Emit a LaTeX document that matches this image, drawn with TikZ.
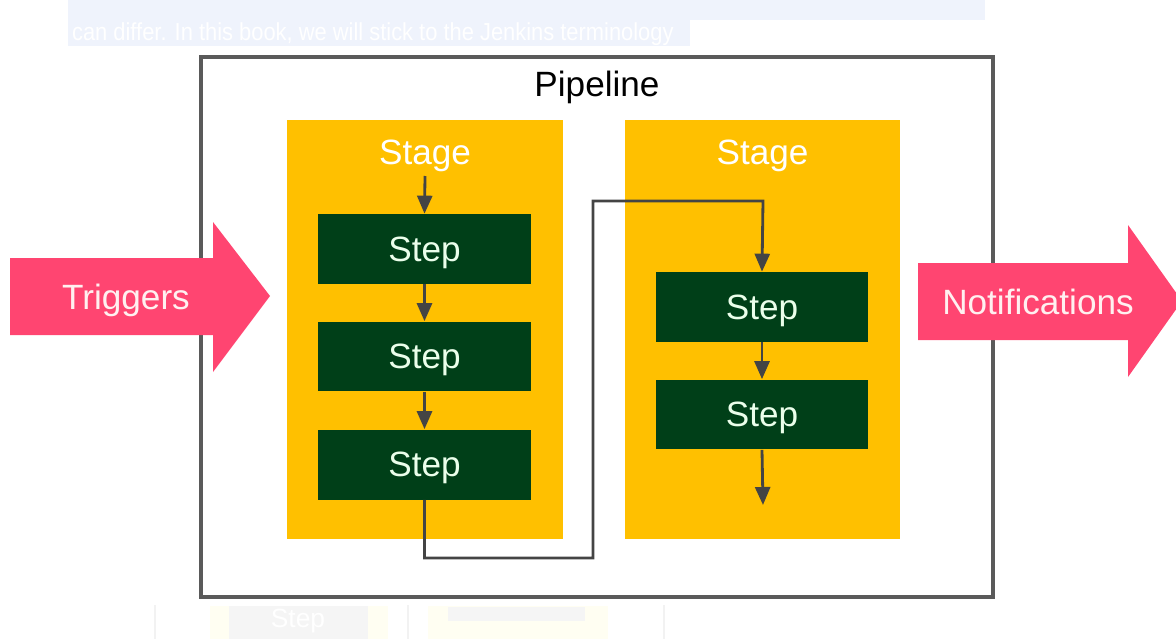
\documentclass[tikz,border=0pt]{standalone}
\usepackage{fontspec}
\setmainfont{Liberation Sans}
\usepackage{xcolor}
\usepackage{tikz}
\usetikzlibrary{positioning,calc,arrows.meta}

\definecolor{stageyellow}{HTML}{FFC000}
\definecolor{stepgreen}{HTML}{003F18}
\definecolor{flowgray}{HTML}{444444}
\definecolor{boxgray}{HTML}{5A5A5A}
\definecolor{hookpink}{HTML}{FF4571}
\definecolor{bandblue}{HTML}{EFF3FC}

\tikzset{
    bigtext/.style={font=\fontsize{20}{24}\selectfont, text depth=0pt},
    stepbox/.style={bigtext, fill=stepgreen, text=white!92!green, minimum width=4.26cm, minimum height=1.4cm, inner sep=0pt},
    stagebox/.style={fill=stageyellow, minimum width=5.52cm, minimum height=8.38cm, inner sep=0pt},
    stagelabel/.style={bigtext, text=white},
    flow/.style={draw=flowgray, line width=1.6pt, -{Triangle[length=0.36cm,width=0.3cm]}},
    hook/.style={fill=hookpink},
    hooklabel/.style={bigtext, text=white!94!red}
}

\begin{document}
\begin{tikzpicture}[x=0.02cm, y=-0.02cm]
    \useasboundingbox (0,0) rectangle (1176,639);

    % faint page remains above and below
    \fill[bandblue] (68,0) rectangle (985,20);
    \fill[bandblue] (68,20) rectangle (690,46);
    \node[anchor=west, text=white, inner sep=1pt, font=\fontsize{14}{16}\selectfont] (pagetext) at (70,34) {\scalebox{0.89}[1]{can differ. In this book, we will stick to the Jenkins terminology}};
    \foreach \x in {155,408,664}
        \draw[black!5, line width=1pt] (\x,605) -- (\x,639);
    \fill[yellow!5] (210,606) rectangle (388,639);
    \fill[black!4] (229,606) rectangle (368,639);
    \node[text=white, inner sep=0pt, font=\fontsize{15}{17}\selectfont] (faintstep) at (298,621) {Step};
    \fill[yellow!5] (428,606) rectangle (608,639);
    \fill[black!4] (448,607) rectangle (585,621);

    % pipeline frame
    \draw[boxgray, line width=1.8pt] (201,57) rectangle (993,597);
    \node[bigtext] (pipe) at (597,84) {Pipeline};

    % stages
    \node[stagebox] (stA) at (425,329.5) {};
    \node[stagebox] (stB) at (762.5,329.5) {};
    \node[stagelabel] (labA) at (425,152) {Stage};
    \node[stagelabel] (labB) at (762.5,152) {Stage};

    % steps
    \node[stepbox] (a1) at (424.5,249) {Step};
    \node[stepbox] (a2) at (424.5,356.5) {Step};
    \node[stepbox] (a3) at (424.5,464.5) {Step};
    \node[stepbox] (b1) at (762,307) {Step};
    \node[stepbox] (b2) at (762,414.5) {Step};

    \coordinate (low) at (593,558);
    \coordinate (high) at (593,201);
    \coordinate (bend) at (763,201);
    \coordinate (tail) at (763,505);

    \draw[flow] (425,176) -- (a1.north);
    \draw[flow] (a1) -- (a2);
    \draw[flow] (a2) -- (a3);
    \draw[flow] (a3.south) |- (low) -- (high) -- (bend) -- (b1.north);
    \draw[flow] (b1) -- (b2);
    \draw[flow] (b2.south) -- (tail);

    % triggers and notifications
    \fill[hook] (10,258) -- (213,258) -- (213,222) -- (270,296) -- (213,372) -- (213,335) -- (10,335) -- cycle;
    \node[hooklabel] (trig) at (126,297) {Triggers};
    \fill[hook] (918,263) -- (1128,263) -- (1128,225) -- (1182,301) -- (1128,377) -- (1128,340) -- (918,340) -- cycle;
    \node[hooklabel] (notif) at (1038,302) {Notifications};
\end{tikzpicture}
\end{document}
